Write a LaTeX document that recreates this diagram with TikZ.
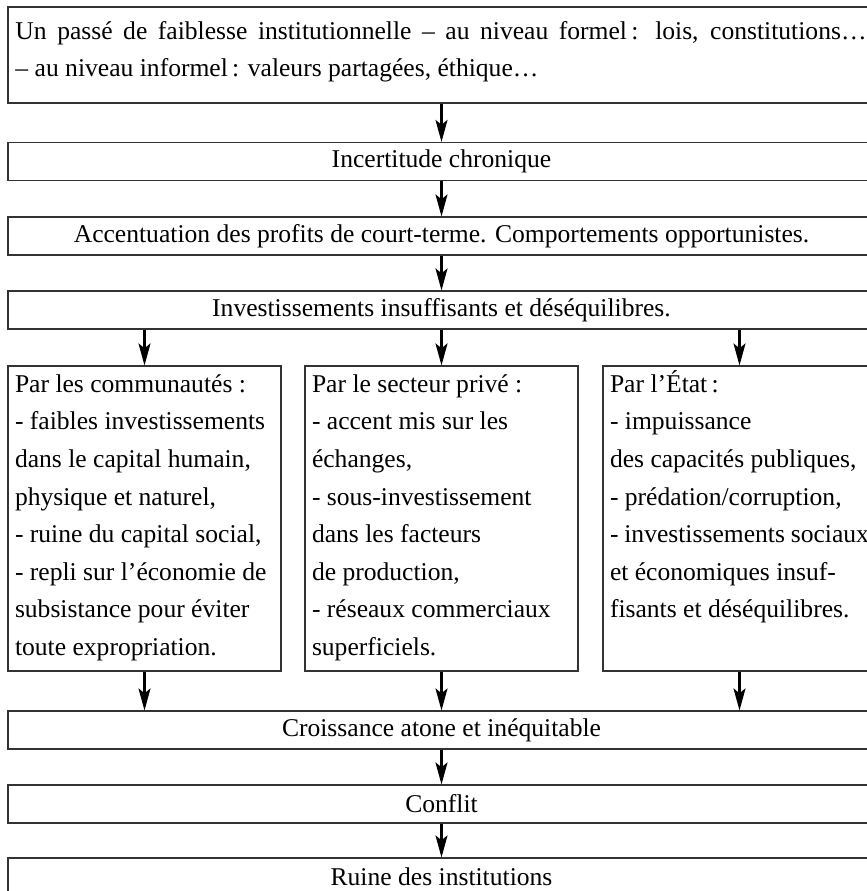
\documentclass[tikz,border=0pt]{standalone}
\usepackage{fontspec}
\setmainfont{Liberation Serif}
\usetikzlibrary{arrows.meta, positioning}
\newcommand{\colbody}[1]{\parbox[t][7.625cm][t]{6.475cm}{\raggedright\strut #1}}
\newcommand{\topbody}[1]{\parbox[c][2.4cm][t]{21.3cm}{\raggedright\vspace*{0.15cm}\strut #1}}
\begin{document}
\begin{tikzpicture}[
        font=\fontsize{18.2}{26.75}\selectfont,
        bar/.style={rectangle, draw=black!80, line width=0.8pt, minimum width=21.675cm, minimum height=0.95cm, inner sep=0pt},
        col/.style={rectangle, draw=black!80, line width=0.8pt, minimum width=6.825cm, inner xsep=0.175cm, inner ysep=0pt},
        flow/.style={-{Stealth[length=5.5mm, width=3mm, inset=1.2mm]}, line width=1.5pt, draw=black}
    ]
        \useasboundingbox (0,0) rectangle (21.675,-22.275);
        \fill[white] (0,0) rectangle (21.675,-22.275);
        \clip (0,0) rectangle (21.675,-22.275);
        \node[bar, minimum height=2.4cm, inner xsep=0.15cm] (past) at (11.0375,-1.375) {\topbody{\makebox[21.275cm][s]{Un passé de faiblesse institutionnelle – au niveau formel\,: lois, constitutions…}\\ – au niveau informel\,: valeurs partagées, éthique…}};
        \node[bar] (chronic) at (11.0375,-4.0375) {Incertitude chronique};
        \node[bar] (shortterm) at (11.0375,-5.9) {Accentuation des profits de court-terme. Comportements opportunistes.};
        \node[bar] (invest) at (11.0375,-7.75) {Investissements insuffisants et déséquilibres.};
        \node[col] (commun) at (3.6125,-12.9625) {\colbody{Par les communautés~:\\ - faibles investissements\\ dans le capital humain,\\ physique et naturel,\\ - ruine du capital social,\\ - repli sur l’économie de\\ subsistance pour éviter\\ toute expropriation.}};
        \node[col] (private) at (11.0375,-12.9625) {\colbody{Par le secteur privé~:\\ - accent mis sur les\\ échanges,\\ - sous-investissement\\ dans les facteurs\\ de production,\\ - réseaux commerciaux\\ superficiels.}};
        \node[col] (state) at (18.4875,-12.9625) {\colbody{Par l’État\,:\\ - impuissance\\ des capacités publiques,\\ - prédation/corruption,\\ - investissements sociaux\\ et économiques insuf-\\ fisants et déséquilibres.}};
        \node[bar] (growth) at (11.0375,-18.25) {Croissance atone et inéquitable};
        \node[bar] (conflict) at (11.0375,-20.1) {Conflit};
        \node[bar] (ruin) at (11.0375,-21.925) {Ruine des institutions};
        \draw[flow] (past.south) -- (chronic.north);
        \draw[flow] (chronic.south) -- (shortterm.north);
        \draw[flow] (shortterm.south) -- (invest.north);
        \draw[flow] (commun |- invest.south) -- (commun.north);
        \draw[flow] (private |- invest.south) -- (private.north);
        \draw[flow] (state |- invest.south) -- (state.north);
        \draw[flow] (commun.south) -- (commun |- growth.north);
        \draw[flow] (private.south) -- (private |- growth.north);
        \draw[flow] (state.south) -- (state |- growth.north);
        \draw[flow] (growth.south) -- (conflict.north);
        \draw[flow] (conflict.south) -- (ruin.north);
    \end{tikzpicture}
\end{document}
